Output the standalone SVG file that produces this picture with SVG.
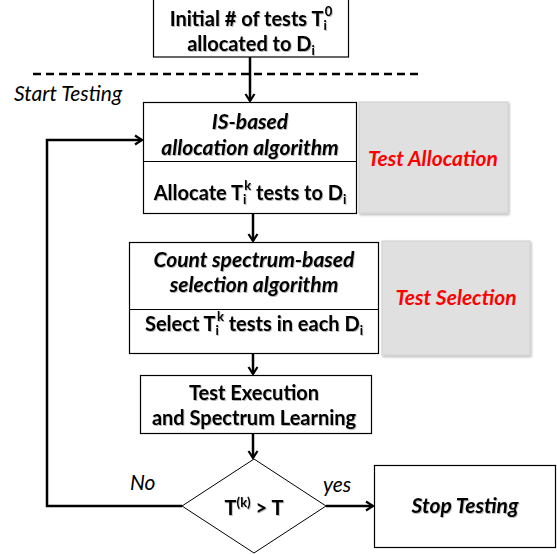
<svg xmlns="http://www.w3.org/2000/svg" width="557" height="554" viewBox="0 0 557 554">
<defs>
<style>
.box{fill:#fff;stroke:#000;stroke-width:1.2}
.gray{fill:#e0e0e0;stroke:#d0d0d0;stroke-width:1}
.con{fill:none;stroke:#000;stroke-width:2.5}
.t{font-family:Lato,"Open Sans",sans-serif;font-size:20px;font-weight:bold;fill:#000;text-anchor:middle}
.it{font-style:italic;font-size:21px}
.red{fill:#ff0000}
.lab{font-family:Lato,"Open Sans",sans-serif;font-size:21px;font-style:italic;fill:#000}
.sm{font-size:13px}
</style>
<marker id="ah" markerUnits="userSpaceOnUse" markerWidth="12" markerHeight="12" viewBox="0 0 12 12" refX="10" refY="6" orient="auto">
<path d="M3,1.5 L10,6 L3,10.5" fill="none" stroke="#000" stroke-width="2.2"/>
</marker>
<filter id="sh" x="-10%" y="-10%" width="130%" height="130%">
<feDropShadow dx="1" dy="1.5" stdDeviation="1" flood-color="#000" flood-opacity="0.3"/>
</filter>
<filter id="tsh" x="-10%" y="-20%" width="130%" height="150%">
<feDropShadow dx="0.8" dy="1" stdDeviation="0.6" flood-color="#000" flood-opacity="0.3"/>
</filter>
</defs>

<g id="connectors">
<line x1="33" y1="74" x2="419" y2="74" stroke="#000" stroke-width="2.5" stroke-dasharray="8,5"/>
<line class="con" x1="250" y1="57" x2="250" y2="101" marker-end="url(#ah)"/>
<line class="con" x1="253" y1="213" x2="253" y2="241" marker-end="url(#ah)"/>
<line class="con" x1="253" y1="354" x2="253" y2="374" marker-end="url(#ah)"/>
<line class="con" x1="253" y1="433" x2="253" y2="458" marker-end="url(#ah)"/>
<polyline class="con" points="182,506 47,506 47,140 142,140" marker-end="url(#ah)"/>
<line class="con" x1="326" y1="506" x2="373" y2="506" marker-end="url(#ah)"/>
</g>

<g id="start-label">
<text class="lab" x="14" y="101">Start Testing</text>
</g>

<g id="initial">
<rect class="box" x="153.5" y="-1" width="195" height="58"/>
<text class="t" filter="url(#tsh)" x="251" y="26">Initial # of tests T<tspan class="sm" dy="4">i</tspan><tspan class="sm" dx="-2" dy="-14">0</tspan></text>
<text class="t" filter="url(#tsh)" x="251" y="51">allocated to D<tspan class="sm" dy="4">i</tspan></text>
</g>

<g id="allocation">
<rect class="box" x="143.5" y="102.5" width="213" height="111"/>
<line x1="143.5" y1="161.5" x2="356.5" y2="161.5" stroke="#000" stroke-width="1.2"/>
<text class="t it" filter="url(#tsh)" x="250" y="129">IS-based</text>
<text class="t it" filter="url(#tsh)" x="250" y="155">allocation algorithm</text>
<text class="t" filter="url(#tsh)" x="250" y="200">Allocate T<tspan class="sm" dy="4">i</tspan><tspan class="sm" dx="-2" dy="-14">k</tspan><tspan dy="10"> tests to D</tspan><tspan class="sm" dy="4">i</tspan></text>
</g>

<g id="test-allocation">
<rect class="gray" filter="url(#sh)" x="359" y="102" width="149" height="111"/>
<text class="t it red" x="433" y="166">Test Allocation</text>
</g>

<g id="selection">
<rect class="box" x="129.5" y="242.5" width="249" height="111"/>
<line x1="129.5" y1="309.5" x2="378.5" y2="309.5" stroke="#000" stroke-width="1.2"/>
<text class="t it" filter="url(#tsh)" x="254" y="267">Count spectrum-based</text>
<text class="t it" filter="url(#tsh)" x="254" y="292">selection algorithm</text>
<text class="t" filter="url(#tsh)" x="254" y="331">Select T<tspan class="sm" dy="4">i</tspan><tspan class="sm" dx="-2" dy="-14">k</tspan><tspan dy="10"> tests in each D</tspan><tspan class="sm" dy="4">i</tspan></text>
</g>

<g id="test-selection">
<rect class="gray" filter="url(#sh)" x="382" y="241" width="148" height="114"/>
<text class="t it red" x="456" y="305">Test Selection</text>
</g>

<g id="execution">
<rect class="box" x="140.5" y="375.5" width="231" height="58"/>
<text class="t" filter="url(#tsh)" x="254" y="400">Test Execution</text>
<text class="t" filter="url(#tsh)" x="254" y="425">and Spectrum Learning</text>
</g>

<g id="decision">
<polygon points="254,459 326,506 254,553 182,506" fill="#fff" stroke="#000" stroke-width="1"/>
<text class="t" filter="url(#tsh)" x="254" y="515">T<tspan class="sm" dy="-8">(k)</tspan><tspan dy="8"> &gt; T</tspan></text>
</g>

<g id="edge-labels">
<text class="lab" x="130" y="490">No</text>
<text class="lab" x="323" y="492">yes</text>
</g>

<g id="stop">
<rect class="box" x="374.5" y="465.5" width="181" height="82"/>
<text class="t it" filter="url(#tsh)" x="465" y="513">Stop Testing</text>
</g>
</svg>
